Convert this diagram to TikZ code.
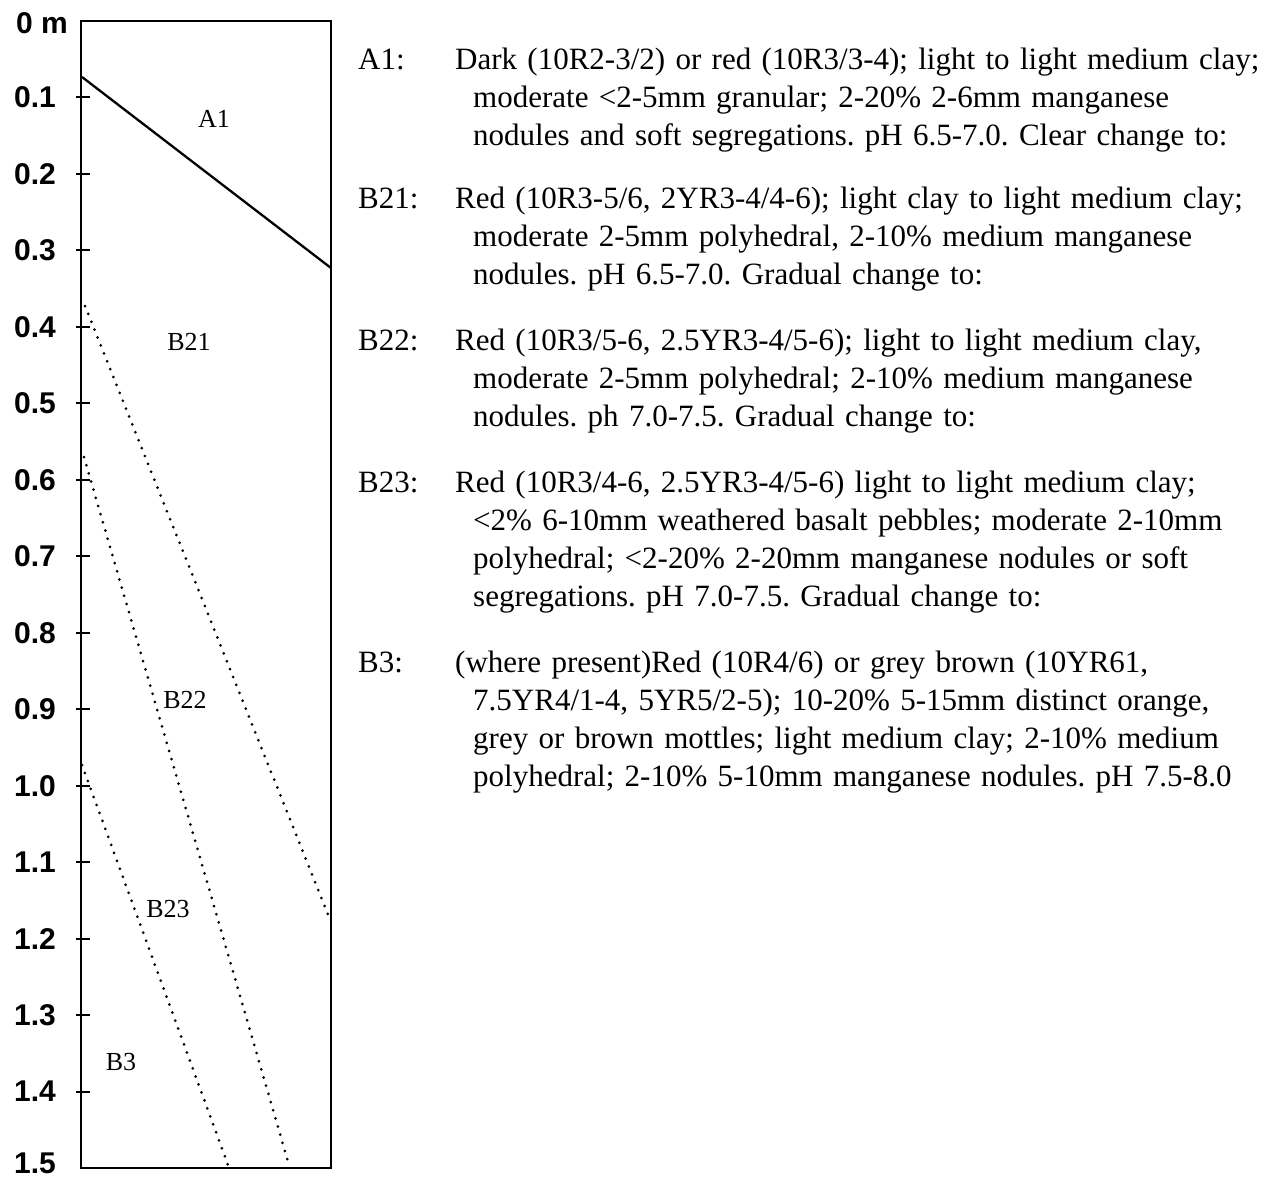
\documentclass[tikz,border=0pt]{standalone}
\usepackage{fontspec}
\setmainfont{Liberation Serif}
\setsansfont{Liberation Sans}
\frenchspacing
\begin{document}
\begin{tikzpicture}
    [
    x=1pt, y=-1pt,
    %Voreinstellungen
    rahmen/.style={line width=2.6pt},
    strich/.style={line width=2pt},
    grenze/.style={line width=3pt, line cap=round, dash pattern=on 0pt off 8.5pt},
    zahl/.style={font=\sffamily\bfseries\fontsize{30}{30}\selectfont, anchor=east, inner sep=0pt},
    horizont/.style={font=\fontsize{26}{26}\selectfont, inner sep=0pt},
    kuerzel/.style={font=\fontsize{31}{38}\selectfont, anchor=base west, inner sep=0pt},
    beschreibung/.style={font=\fontsize{31}{38}\selectfont, anchor=base west, inner sep=0pt,
      text width=900pt, align=left}
    ]
    
    %Bildgroesse
    \useasboundingbox (0,0) rectangle (1282,1180);
    
    %Profil
    \draw[rahmen] (81,21) rectangle (331,1168);
    
    %Tiefe in m
    \node[zahl] (z0) at (68,23) {0 m};
    \foreach \t [count=\k] in {0.1,0.2,0.3,0.4,0.5,0.6,0.7,0.8,0.9,1.0,1.1,1.2,1.3,1.4,1.5}
    \node[zahl] (z\k) at (56,{min(21+76.47*\k,1163)}) {\t};
    
    %Striche
    \foreach \k in {1,...,14}
    \draw[strich] (76,{21+76.47*\k}) -- (90,{21+76.47*\k});
    
    %Horizontgrenzen
    \draw[line width=2.3pt] (82,77) -- (331,268);
    \draw[grenze] (85,306) -- (329,917);
    \draw[grenze] (84,457) -- (289,1165);
    \draw[grenze] (82,765) -- (228,1165);
    
    %Horizonte
    \node[horizont] (hA1) at (214,119) {A1};
    \node[horizont] (hB21) at (189,342) {B21};
    \node[horizont] (hB22) at (185,700) {B22};
    \node[horizont] (hB23) at (168,909) {B23};
    \node[horizont] (hB3) at (121,1062) {B3};
    
    %Beschreibung A1
    \node[kuerzel] (kA1) at (358,70) {A1:};
    \node[beschreibung] (bA1) at (473,70) {\hspace*{-18pt}%
      Dark (10R2-3/2) or red (10R3/3-4); light to light medium clay;\\
      moderate <2-5mm granular; 2-20\% 2-6mm manganese\\
      nodules and soft segregations. pH 6.5-7.0. Clear change to:};
    
    %Beschreibung B21
    \node[kuerzel] (kB21) at (358,208) {B21:};
    \node[beschreibung] (bB21) at (473,208) {\hspace*{-18pt}%
      Red (10R3-5/6, 2YR3-4/4-6); light clay to light medium clay;\\
      moderate 2-5mm polyhedral, 2-10\% medium manganese\\
      nodules. pH 6.5-7.0. Gradual change to:};
    
    %Beschreibung B22
    \node[kuerzel] (kB22) at (358,350) {B22:};
    \node[beschreibung] (bB22) at (473,350) {\hspace*{-18pt}%
      Red (10R3/5-6, 2.5YR3-4/5-6); light to light medium clay,\\
      moderate 2-5mm polyhedral; 2-10\% medium manganese\\
      nodules. ph 7.0-7.5. Gradual change to:};
    
    %Beschreibung B23
    \node[kuerzel] (kB23) at (358,492) {B23:};
    \node[beschreibung] (bB23) at (473,492) {\hspace*{-18pt}%
      Red (10R3/4-6, 2.5YR3-4/5-6) light to light medium clay;\\
      <2\% 6-10mm weathered basalt pebbles; moderate 2-10mm\\
      polyhedral; <2-20\% 2-20mm manganese nodules or soft\\
      segregations. pH 7.0-7.5. Gradual change to:};
    
    %Beschreibung B3
    \node[kuerzel] (kB3) at (358,672) {B3:};
    \node[beschreibung] (bB3) at (473,672) {\hspace*{-18pt}%
      (where present)Red (10R4/6) or grey brown (10YR61,\\
      7.5YR4/1-4, 5YR5/2-5); 10-20\% 5-15mm distinct orange,\\
      grey or brown mottles; light medium clay; 2-10\% medium\\
      polyhedral; 2-10\% 5-10mm manganese nodules. pH 7.5-8.0};
\end{tikzpicture}
\end{document}
